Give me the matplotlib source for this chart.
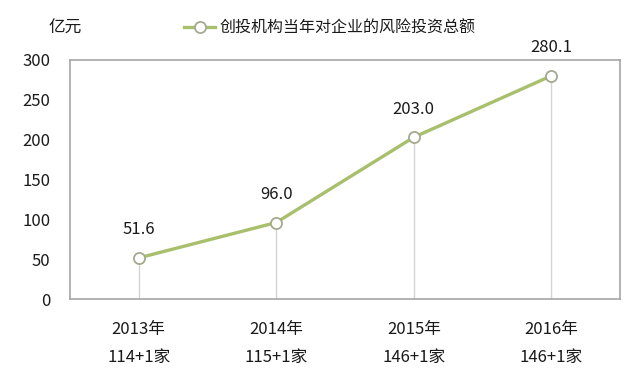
import matplotlib
matplotlib.use("Agg")
import matplotlib.pyplot as plt

plt.rcParams["font.family"] = ["Noto Sans CJK SC", "DejaVu Sans"]

# Chart data
years = ["2013年", "2014年", "2015年", "2016年"]
firms = ["114+1家", "115+1家", "146+1家", "146+1家"]
amounts = [51.6, 96.0, 203.0, 280.1]
yticks = [0, 50, 100, 150, 200, 250, 300]

LINE_COLOR = "#a8bf6c"
BOX_COLOR = "#a6a6a6"
TEXT_COLOR = "#1a1a1a"

fig = plt.figure(figsize=(6.4, 3.77), dpi=100)
ax = fig.add_axes([70 / 640, 1 - 299 / 377, 550 / 640, 239 / 377])

xs = list(range(len(amounts)))

# drop lines from each point to the baseline
ax.vlines(xs, 0, amounts, color="#d4d4d4", linewidth=1.0, zorder=1)

ax.plot(xs, amounts, color=LINE_COLOR, linewidth=2.4, marker="o",
        markersize=8, markerfacecolor="white", markeredgecolor="#a3aa8f",
        markeredgewidth=1.3, zorder=3, label="创投机构当年对企业的风险投资总额")

for x, v in zip(xs, amounts):
    ax.annotate(f"{v:.1f}", (x, v), xytext=(0, 14), textcoords="offset points",
                ha="center", va="bottom", fontsize=12, color=TEXT_COLOR)

ax.set_xlim(-0.5, 3.5)
ax.set_ylim(0, 300)
ax.set_yticks(yticks)
ax.set_yticklabels([str(t) for t in yticks], fontsize=12, color=TEXT_COLOR)
ax.tick_params(axis="y", length=0, pad=14)
ax.set_xticks([])

for x, yr, fm in zip(xs, years, firms):
    ax.annotate(yr, (x, 0), xycoords=("data", "axes fraction"),
                xytext=(0, -22), textcoords="offset points",
                ha="center", va="center", fontsize=12, color=TEXT_COLOR)
    ax.annotate(fm, (x, 0), xycoords=("data", "axes fraction"),
                xytext=(0, -42), textcoords="offset points",
                ha="center", va="center", fontsize=12, color=TEXT_COLOR)

for s in ax.spines.values():
    s.set_color(BOX_COLOR)
    s.set_linewidth(1.2)

fig.text(65 / 640, 1 - 28 / 377, "亿元", ha="center", va="center",
         fontsize=12, color=TEXT_COLOR)

fig.legend(loc="center", bbox_to_anchor=(330 / 640, 1 - 28 / 377),
           frameon=False, fontsize=11.5, handlelength=1.9, handletextpad=0.3,
           labelcolor=TEXT_COLOR)

fig.savefig("out.png", dpi=100, facecolor="white")
